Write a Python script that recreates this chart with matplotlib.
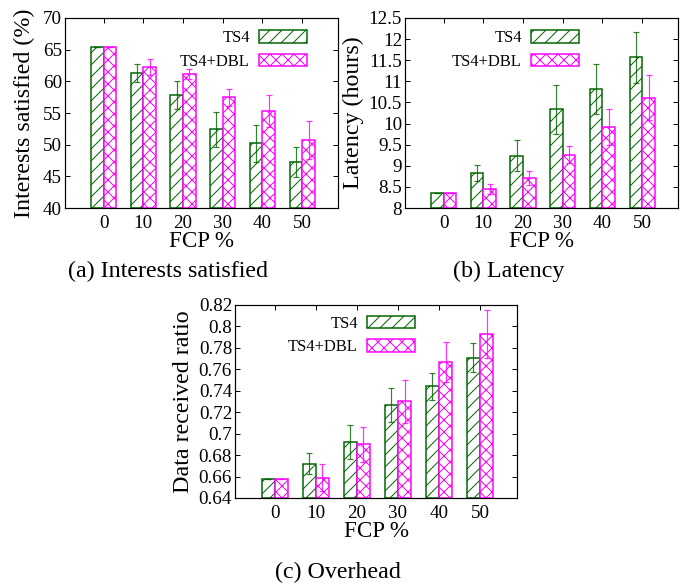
import matplotlib
matplotlib.use('Agg')
import matplotlib.pyplot as plt
import numpy as np

# FCP % categories
fcp = ['0', '10', '20', '30', '40', '50']

# (a) Interests satisfied (%)
int_ts4 = [65.4, 61.3, 57.8, 52.4, 50.2, 47.3]
int_ts4_err = [0.0, 1.4, 2.2, 2.8, 2.9, 2.4]
int_dbl = [65.4, 62.3, 61.2, 57.5, 55.3, 50.8]
int_dbl_err = [0.0, 1.3, 0.8, 1.35, 2.5, 3.0]

# (b) Latency (hours)
lat_ts4 = [8.35, 8.83, 9.24, 10.34, 10.82, 11.57]
lat_ts4_err = [0.0, 0.2, 0.37, 0.58, 0.6, 0.6]
lat_dbl = [8.35, 8.45, 8.71, 9.26, 9.92, 10.61]
lat_dbl_err = [0.0, 0.11, 0.16, 0.2, 0.42, 0.53]

# (c) Data received ratio
ovh_ts4 = [0.658, 0.672, 0.692, 0.727, 0.744, 0.771]
ovh_ts4_err = [0.0, 0.0097, 0.016, 0.016, 0.013, 0.0133]
ovh_dbl = [0.658, 0.659, 0.690, 0.730, 0.767, 0.793]
ovh_dbl_err = [0.0, 0.0128, 0.0166, 0.02, 0.0185, 0.0227]

GREEN = '#006400'
MAGENTA = '#ff00ff'
SERIF = ['Liberation Serif', 'DejaVu Serif']

plt.rcParams['font.family'] = SERIF
plt.rcParams['hatch.linewidth'] = 1.0

# dpi 72 so 1pt == 1px
fig = plt.figure(figsize=(688 / 72, 587 / 72), dpi=72)


def panel(rect, ts4, ts4_err, dbl, dbl_err, ylim, yticks, ylabel, ylab_x, leg_x, leg_y):
    ax = fig.add_axes(rect)
    x = np.arange(len(fcp))
    w = 0.32
    base = ylim[0]
    h1 = np.array(ts4) - base
    h2 = np.array(dbl) - base
    ax.bar(x - w / 2, h1, w, bottom=base, facecolor='white', edgecolor=GREEN,
           hatch='//', linewidth=1.5, label='TS4', zorder=2)
    ax.bar(x + w / 2, h2, w, bottom=base, facecolor='white', edgecolor=MAGENTA,
           hatch='xx', linewidth=1.5, label='TS4+DBL', zorder=2)
    ax.errorbar(x - w / 2, ts4, yerr=ts4_err, fmt='none', ecolor=GREEN,
                elinewidth=1.2, capsize=3, capthick=1.2, alpha=0.8, zorder=3)
    ax.errorbar(x + w / 2, dbl, yerr=dbl_err, fmt='none', ecolor=MAGENTA,
                elinewidth=1.2, capsize=3, capthick=1.2, alpha=0.8, zorder=3)
    ax.set_xlim(-0.97, 5.9)
    ax.set_ylim(*ylim)
    ax.set_xticks(x)
    ax.set_xticklabels(fcp)
    ax.set_yticks(yticks)
    ax.set_yticklabels(['%g' % v for v in yticks])
    ax.tick_params(axis='both', direction='in', top=True, right=True,
                   length=5, width=1, labelsize=19, pad=3)
    ax.tick_params(axis='x', pad=7)
    ax.set_xlabel('FCP %', fontsize=23, va='center')
    ax.xaxis.set_label_coords(0.5, -0.175)
    ax.set_ylabel(ylabel, fontsize=24, va='center')
    ax.yaxis.set_label_coords(ylab_x, 0.5)
    for s in ax.spines.values():
        s.set_linewidth(1.2)
    ax.legend(loc='upper right', bbox_to_anchor=(leg_x, leg_y), frameon=False,
              markerfirst=False, fontsize=16.5, handlelength=2.9, handleheight=0.8,
              handletextpad=0.55, labelspacing=0.45, borderpad=0, borderaxespad=0)
    return ax


panel([65 / 688, 1 - 208 / 587, 273 / 688, 190 / 587],
      int_ts4, int_ts4_err, int_dbl, int_dbl_err,
      (40, 70), [40, 45, 50, 55, 60, 65, 70],
      'Interests satisfied (%)', -0.147, 0.886, 0.935)

panel([405 / 688, 1 - 208 / 587, 273 / 688, 190 / 587],
      lat_ts4, lat_ts4_err, lat_dbl, lat_dbl_err,
      (8, 12.5), [8, 8.5, 9, 9.5, 10, 10.5, 11, 11.5, 12, 12.5],
      'Latency (hours)', -0.19, 0.637, 0.935)

panel([235 / 688, 1 - 498 / 587, 282 / 688, 193 / 587],
      ovh_ts4, ovh_ts4_err, ovh_dbl, ovh_dbl_err,
      (0.64, 0.82), [0.64, 0.66, 0.68, 0.7, 0.72, 0.74, 0.76, 0.78, 0.8, 0.82],
      'Data received ratio', -0.181, 0.638, 0.945)

fig.text(168 / 688, 1 - 271 / 587, '(a) Interests satisfied', fontsize=24, ha='center', va='center')
fig.text(509 / 688, 1 - 271 / 587, '(b) Latency', fontsize=24, ha='center', va='center')
fig.text(338 / 688, 1 - 572 / 587, '(c) Overhead', fontsize=24, ha='center', va='center')

fig.savefig('out.png', dpi=72)
